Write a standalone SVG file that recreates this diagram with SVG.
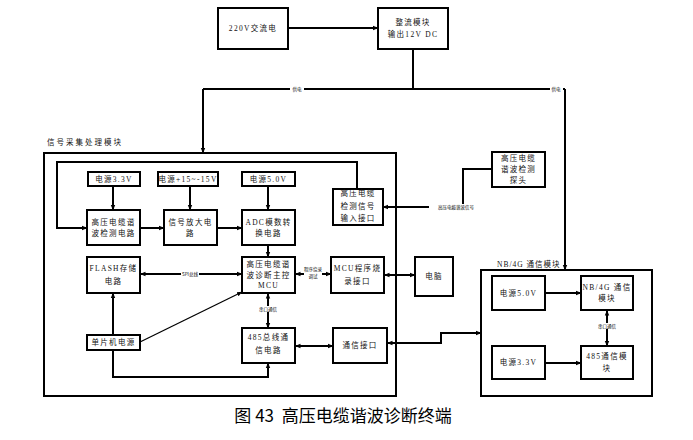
<svg xmlns="http://www.w3.org/2000/svg" width="693" height="440" viewBox="0 0 693 440">
<style>
.bx{fill:#fff;stroke:#000;stroke-width:2}
.mod{fill:none;stroke:#000;stroke-width:2}
.ln{fill:none;stroke:#000;stroke-width:2}
.thin{fill:none;stroke:#000;stroke-width:1.3}
.t{font-family:"Liberation Serif","Noto Sans CJK SC",serif;font-size:7.5px;letter-spacing:1.3px;text-anchor:middle;fill:#111}
.ml{font-family:"Liberation Serif","Noto Sans CJK SC",serif;font-size:7.5px;letter-spacing:2px;fill:#111}
.s{font-family:"Noto Sans CJK SC",sans-serif;font-size:4.5px;text-anchor:middle;fill:#000}
.bg{fill:#fff}
.cap{font-family:"Noto Sans CJK SC",sans-serif;font-size:17px;text-anchor:middle;fill:#000;white-space:pre}
</style>
<defs>
<marker id="ae" markerWidth="6" markerHeight="6" refX="5" refY="3" orient="auto" markerUnits="userSpaceOnUse"><path d="M0,0.8 L5.5,3 L0,5.2 Z" fill="#000"/></marker>
<marker id="as" markerWidth="6" markerHeight="6" refX="0.5" refY="3" orient="auto" markerUnits="userSpaceOnUse"><path d="M6,0.8 L0.5,3 L6,5.2 Z" fill="#000"/></marker>
</defs>
<rect width="693" height="440" fill="#fff"/>

<g id="connectors">
<path class="ln" d="M288,28 H378" marker-end="url(#ae)"/>
<path class="ln" d="M413,49 V89"/>
<path class="ln" d="M203,89 H565"/>
<path class="ln" d="M203,89 V153" marker-end="url(#ae)"/>
<path class="ln" d="M565,89 V270" marker-end="url(#ae)"/>
<rect class="bg" x="290" y="86" width="14" height="6"/>
<text class="s" x="297" y="90.5">供电</text>
<rect class="bg" x="550" y="86" width="13" height="6"/>
<text class="s" x="556" y="90.5">供电</text>

<path class="ln" d="M357,189 V162 H57 V228 H87" marker-end="url(#ae)"/>
<path class="ln" d="M113,186 V210" marker-end="url(#ae)"/>
<path class="ln" d="M190,186 V210" marker-end="url(#ae)"/>
<path class="ln" d="M268,186 V210" marker-end="url(#ae)"/>
<path class="ln" d="M140,228 H164" marker-end="url(#ae)"/>
<path class="ln" d="M217,228 H242" marker-end="url(#ae)"/>
<path class="ln" d="M268,245 V257" marker-end="url(#ae)"/>

<path class="ln" d="M492,169 H463 V207 H383" marker-end="url(#ae)"/>
<rect class="bg" x="429" y="204" width="54" height="6"/>
<text class="s" x="456" y="208.5">高压电缆谐波信号</text>

<path class="ln" d="M140,274 H242" marker-start="url(#as)" marker-end="url(#ae)"/>
<rect class="bg" x="181" y="271" width="18" height="6"/>
<text class="s" x="190" y="275.5">SPI总线</text>
<path class="ln" d="M295,274 H331" marker-start="url(#as)" marker-end="url(#ae)"/>
<rect class="bg" x="304" y="266" width="18" height="14"/>
<text class="s" x="313" y="271">程序烧录</text>
<text class="s" x="313" y="277.5">调试</text>
<path class="ln" d="M384,275 H415" marker-start="url(#as)" marker-end="url(#ae)"/>

<path class="ln" d="M268,293 V328" marker-start="url(#as)" marker-end="url(#ae)"/>
<rect class="bg" x="259" y="306" width="18" height="6"/>
<text class="s" x="268" y="310.5">串口通信</text>

<path class="ln" d="M113,335 V293" marker-end="url(#ae)"/>
<path class="thin" d="M140,342 L242,292" marker-end="url(#ae)"/>
<path class="ln" d="M113,350 V377 H268 V363" marker-end="url(#ae)"/>
<path class="ln" d="M295,346 H333" marker-start="url(#as)" marker-end="url(#ae)"/>
<path class="ln" d="M387,343 H441 V333 H481" marker-start="url(#as)" marker-end="url(#ae)"/>

<path class="ln" d="M545,293 H581" marker-end="url(#ae)"/>
<path class="ln" d="M545,363 H581" marker-end="url(#ae)"/>
<path class="ln" d="M607,310 V346" marker-start="url(#as)" marker-end="url(#ae)"/>
<rect class="bg" x="598" y="323" width="18" height="6"/>
<text class="s" x="607" y="327.5">串口通信</text>
</g>

<g id="ac220"><rect class="bx" x="218" y="8" width="70" height="41"/><text class="t" x="253" y="31">220V交流电</text></g>
<g id="rectifier"><rect class="bx" x="378" y="8" width="70" height="41"/><text class="t" x="413" y="25">整流模块</text><text class="t" x="413" y="37">输出12V DC</text></g>

<g id="signal-module"><rect class="mod" x="44" y="153" width="352" height="243"/><text class="ml" x="47" y="145">信号采集处理模块</text></g>
<g id="p33"><rect class="bx" x="88" y="172" width="52" height="14"/><text class="t" x="114" y="182">电源3.3V</text></g>
<g id="p15"><rect class="bx" x="158" y="172" width="60" height="14"/><text class="t" x="188" y="182">电源+15~-15V</text></g>
<g id="p50"><rect class="bx" x="242" y="172" width="53" height="14"/><text class="t" x="268.5" y="182">电源5.0V</text></g>
<g id="harm-detect"><rect class="bx" x="87" y="210" width="53" height="35"/><text class="t" x="113.5" y="225">高压电缆谐</text><text class="t" x="113.5" y="236">波检测电路</text></g>
<g id="amp"><rect class="bx" x="164" y="210" width="53" height="35"/><text class="t" x="190.5" y="225">信号放大电</text><text class="t" x="190.5" y="236">路</text></g>
<g id="adc"><rect class="bx" x="242" y="210" width="53" height="35"/><text class="t" x="268.5" y="225">ADC模数转</text><text class="t" x="268.5" y="236">换电路</text></g>
<g id="input-if"><rect class="bx" x="333" y="189" width="50" height="36"/><text class="t" x="358" y="196">高压电缆</text><text class="t" x="358" y="209">检测信号</text><text class="t" x="358" y="221">输入接口</text></g>
<g id="probe"><rect class="bx" x="492" y="152" width="53" height="35"/><text class="t" x="518.5" y="161">高压电缆</text><text class="t" x="518.5" y="172">谐波检测</text><text class="t" x="518.5" y="183">探头</text></g>
<g id="flash"><rect class="bx" x="87" y="257" width="53" height="36"/><text class="t" x="113.5" y="271">FLASH存储</text><text class="t" x="113.5" y="284">电路</text></g>
<g id="mcu"><rect class="bx" x="242" y="257" width="53" height="36"/><text class="t" x="268.5" y="267">高压电缆谐</text><text class="t" x="268.5" y="277.5">波诊断主控</text><text class="t" x="268.5" y="288">MCU</text></g>
<g id="prog-if"><rect class="bx" x="331" y="257" width="53" height="36"/><text class="t" x="357.5" y="271">MCU程序烧</text><text class="t" x="357.5" y="284">录接口</text></g>
<g id="pc"><rect class="bx" x="415" y="257" width="38" height="39"/><text class="t" x="434" y="279">电脑</text></g>
<g id="mcu-power"><rect class="bx" x="87" y="335" width="53" height="15"/><text class="t" x="113.5" y="345">单片机电源</text></g>
<g id="rs485"><rect class="bx" x="242" y="328" width="53" height="35"/><text class="t" x="268.5" y="340">485总线通</text><text class="t" x="268.5" y="353">信电路</text></g>
<g id="comm-if"><rect class="bx" x="333" y="328" width="54" height="35"/><text class="t" x="360" y="348">通信接口</text></g>

<g id="nb-module"><rect class="mod" x="481" y="270" width="171" height="126"/><text class="ml" x="497" y="267" style="letter-spacing:1px">NB/4G 通信模块</text></g>
<g id="nb-p50"><rect class="bx" x="492" y="276" width="53" height="34"/><text class="t" x="518.5" y="296">电源5.0V</text></g>
<g id="nb4g"><rect class="bx" x="581" y="276" width="52" height="34"/><text class="t" x="607" y="290">NB/4G 通信</text><text class="t" x="607" y="301">模块</text></g>
<g id="nb-p33"><rect class="bx" x="492" y="346" width="53" height="33"/><text class="t" x="518.5" y="365">电源3.3V</text></g>
<g id="m485"><rect class="bx" x="581" y="346" width="52" height="33"/><text class="t" x="607" y="359">485通信模</text><text class="t" x="607" y="371">块</text></g>

<text class="cap" x="343" y="422">图 43  高压电缆谐波诊断终端</text>
</svg>
